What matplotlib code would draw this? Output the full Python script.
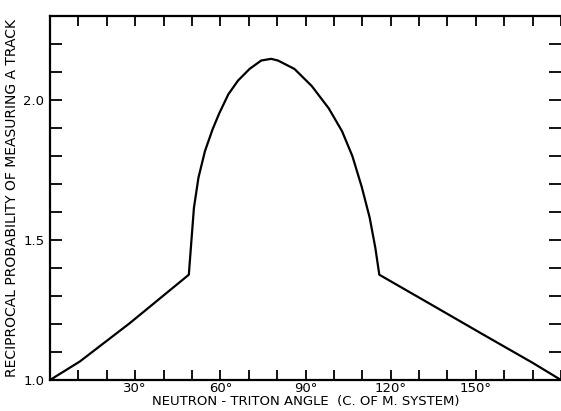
import matplotlib.pyplot as plt
from matplotlib.ticker import MultipleLocator, FixedLocator

# values: angle (deg) vs reciprocal probability
angle = [0.0, 10.5, 28.1, 48.9, 49.8, 50.7, 52.3, 54.6, 57.3, 59.6, 62.8,
         66.2, 70.3, 74.4, 77.9, 80.3, 86.1, 92.2, 98.2, 102.9, 106.5,
         109.8, 112.6, 114.6, 116.0, 134.7, 152.3, 169.9, 180.0]
recip = [1.000, 1.066, 1.203, 1.376, 1.496, 1.615, 1.723, 1.818, 1.896,
         1.952, 2.020, 2.069, 2.111, 2.141, 2.147, 2.141, 2.111, 2.050,
         1.970, 1.888, 1.800, 1.690, 1.580, 1.472, 1.376, 1.267, 1.164,
         1.062, 1.000]

x_labels = [30, 60, 90, 120, 150]
y_labels = [1.0, 1.5, 2.0]

plt.rcParams["font.family"] = "DejaVu Sans"

fig = plt.figure(figsize=(5.61, 4.11), dpi=100)
ax = fig.add_axes([50 / 561, 1 - 380 / 411, 1 - 50 / 561, (380 - 16) / 411])

ax.plot(angle, recip, color="black", lw=1.6, solid_joinstyle="round")

ax.set_xlim(0, 180)
ax.set_ylim(1.0, 2.3)

ax.xaxis.set_major_locator(FixedLocator(x_labels))
ax.xaxis.set_minor_locator(MultipleLocator(10))
ax.set_xticklabels([f"{v}°" for v in x_labels])
ax.yaxis.set_major_locator(FixedLocator(y_labels))
ax.yaxis.set_minor_locator(MultipleLocator(0.1))
ax.set_yticklabels([f"{v:.1f}" for v in y_labels])

ax.tick_params(which="both", direction="in", top=True, right=True,
               length=7, width=1.3, labelsize=9.5, pad=4)
ax.tick_params(axis="x", which="both", pad=1.5)
ax.tick_params(axis="y", which="both", length=8.5)

for side in ["left", "bottom", "top"]:
    ax.spines[side].set_linewidth(1.6)
ax.spines["right"].set_visible(False)

ax.set_xlabel("NEUTRON - TRITON ANGLE  (C. OF M. SYSTEM)", fontsize=9.5,
              labelpad=0)
ax.set_ylabel("RECIPROCAL PROBABILITY OF MEASURING A TRACK", fontsize=10,
              labelpad=3)

fig.savefig("out.png", dpi=100)
